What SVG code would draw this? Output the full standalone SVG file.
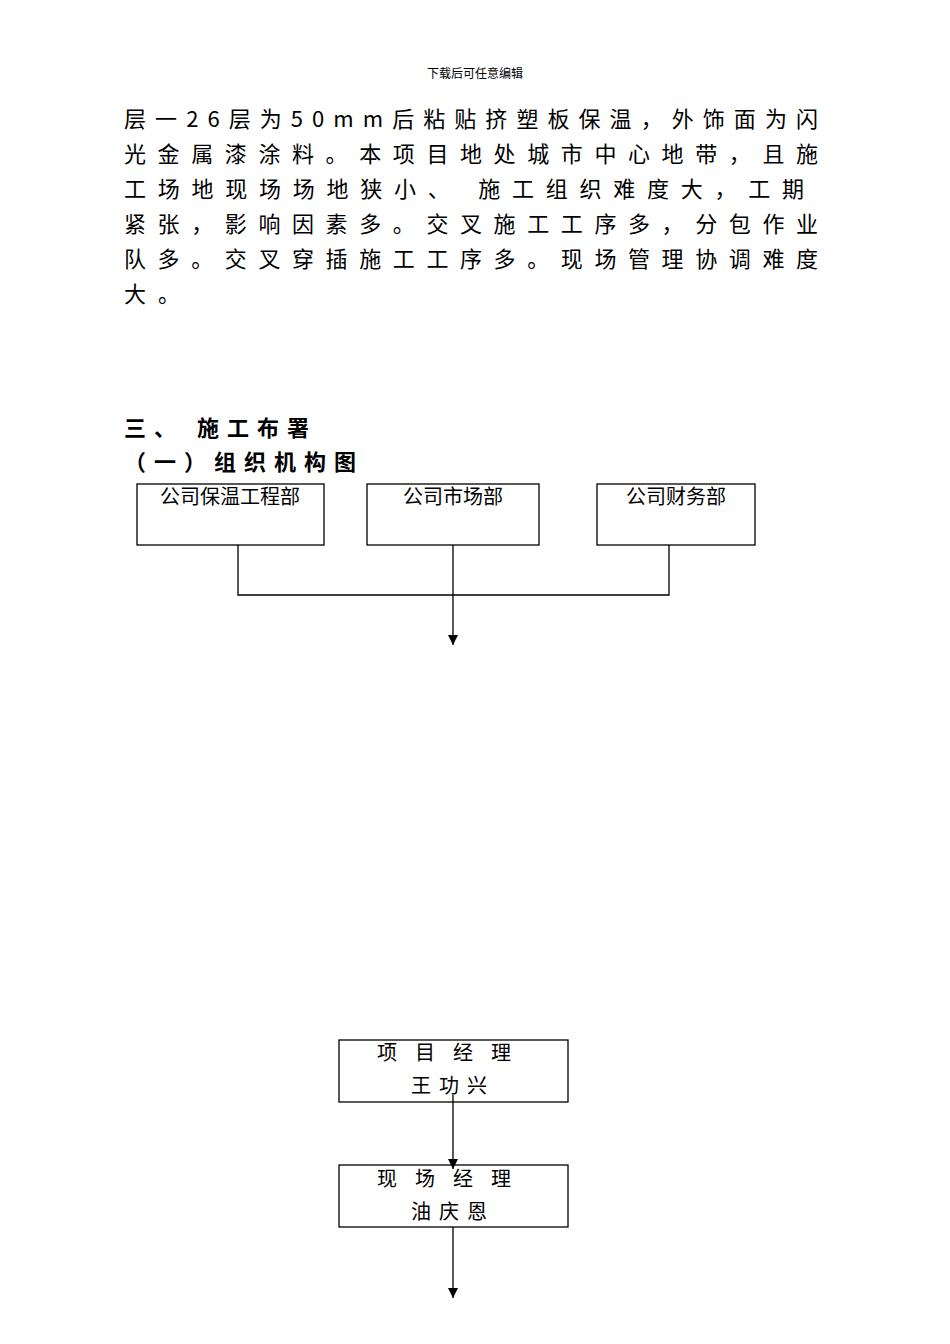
<svg xmlns="http://www.w3.org/2000/svg" width="950" height="1344" viewBox="0 0 950 1344">
<style>
text{font-family:"Noto Sans CJK SC","DejaVu Sans",sans-serif;fill:#000}
.b{font-size:22px}
.h{font-size:22px;font-weight:bold;letter-spacing:8px}
.n{font-size:20px}
rect{fill:#fff;stroke:#000;stroke-width:1.3}
.c line,.c polyline{stroke:#000;stroke-width:1.3;fill:none}
</style>
<defs><marker id="a" markerWidth="10" markerHeight="12" refX="5" refY="11" orient="auto" markerUnits="userSpaceOnUse"><path d="M0,0L10,0L5,11z" transform="rotate(-90 5 5) translate(0 0)" fill="none"/></marker>
<marker id="ar" viewBox="0 0 10 10" refX="10" refY="5" markerWidth="10" markerHeight="10" orient="auto" markerUnits="userSpaceOnUse"><path d="M0,0L10,5L0,10z" fill="#000"/></marker></defs>
<text x="475" y="78" font-size="12" text-anchor="middle" style="font-family:'Noto Sans CJK SC',serif">下载后可任意编辑</text>
<g class="b">
<text x="124" y="127" textLength="694" lengthAdjust="spacing">层一26层为50mm后粘贴挤塑板保温，外饰面为闪</text>
<text x="124" y="162" textLength="694" lengthAdjust="spacing">光金属漆涂料。本项目地处城市中心地带，且施</text>
<text x="124" y="197" textLength="680" lengthAdjust="spacing">工场地现场场地狭小、 施工组织难度大，工期</text>
<text x="124" y="232" textLength="694" lengthAdjust="spacing">紧张，影响因素多。交叉施工工序多，分包作业</text>
<text x="124" y="267" textLength="694" lengthAdjust="spacing">队多。交叉穿插施工工序多。现场管理协调难度</text>
<text x="124" y="302" letter-spacing="12">大。</text>
</g>
<text class="h" x="124" y="436">三、  施工布署</text>
<text class="h" x="124" y="470">（一）组织机构图</text>
<g id="n1"><rect x="137" y="484" width="187" height="61"/><text class="n" x="230" y="504" text-anchor="middle">公司保温工程部</text></g>
<g id="n2"><rect x="367" y="484" width="172" height="61"/><text class="n" x="453" y="504" text-anchor="middle">公司市场部</text></g>
<g id="n3"><rect x="597" y="484" width="158" height="61"/><text class="n" x="676" y="504" text-anchor="middle">公司财务部</text></g>
<g id="n4"><rect x="339" y="1040" width="229" height="62"/><text class="n" x="453" y="1060" text-anchor="middle" letter-spacing="18">项目经理</text><text class="n" x="453" y="1093" text-anchor="middle" letter-spacing="8">王功兴</text></g>
<g id="n5"><rect x="339" y="1165" width="229" height="62"/><text class="n" x="453" y="1186" text-anchor="middle" letter-spacing="18">现场经理</text><text class="n" x="453" y="1219" text-anchor="middle" letter-spacing="8">油庆恩</text></g>
<g class="c">
<polyline points="238,545 238,595 669,595 669,545"/>
<line x1="453" y1="545" x2="453" y2="645" marker-end="url(#ar)"/>
<line x1="453" y1="1095" x2="453" y2="1169" marker-end="url(#ar)"/>
<line x1="453" y1="1227" x2="453" y2="1298" marker-end="url(#ar)"/>
</g>
</svg>
